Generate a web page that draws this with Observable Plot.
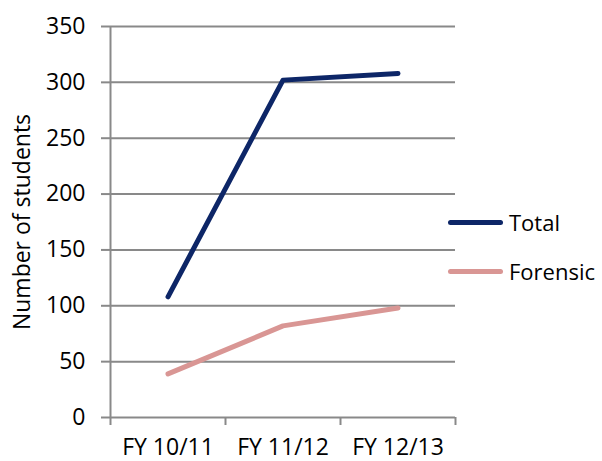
<!DOCTYPE html>
<html>
<head>
<meta charset="utf-8">
<script src="https://cdn.jsdelivr.net/npm/d3@7"></script>
<script src="https://cdn.jsdelivr.net/npm/@observablehq/plot@0.6"></script>
<style>
  html, body { margin: 0; padding: 0; background: #fff; }
  #chart { position: relative; width: 602px; height: 461px; font-family: "Open Sans", sans-serif; }
  #legend { position: absolute; left: 448px; top: 205px; font-size: 22px; color: #000; }
  .item { display: flex; align-items: center; height: 34px; margin-bottom: 15px; }
  .swatch { width: 55px; height: 5px; border-radius: 3px; margin-right: 6px; }
</style>
</head>
<body>
<div id="chart"><div id="legend"></div></div>
<script>
// Enrolment by fiscal year
const years = ["FY 10/11", "FY 11/12", "FY 12/13"];
const totalStudents = [108, 302, 308];
const forensicStudents = [39, 82, 98];
const seriesNames = ["Total", "Forensic"];
const seriesColors = ["#0d2667", "#d99694"];
const yTicks = [0, 50, 100, 150, 200, 250, 300, 350];

const rows = [
  ...years.map((fy, i) => ({series: "Total", i, fy, value: totalStudents[i]})),
  ...years.map((fy, i) => ({series: "Forensic", i, fy, value: forensicStudents[i]}))
];

const grey = "#898989";

const chart = Plot.plot({
  width: 602,
  height: 461,
  marginLeft: 110,
  marginRight: 147,
  marginTop: 26,
  marginBottom: 44,
  style: {fontFamily: "'Open Sans', sans-serif", fontSize: "23px", color: "#000", background: "#fff"},
  x: {domain: [0, years.length]},
  y: {domain: [0, 350]},
  color: {domain: seriesNames, range: seriesColors},
  marks: [
    Plot.gridY(yTicks, {stroke: grey, strokeOpacity: 1, strokeWidth: 2}),
    Plot.ruleX([0], {stroke: grey, strokeWidth: 2}),
    Plot.axisY(yTicks, {
      tickSize: 9, tickPadding: 16, stroke: grey, strokeWidth: 2,
      label: "Number of students", labelAnchor: "center", labelArrow: "none", labelOffset: 97
    }),
    // category boundary ticks
    Plot.axisX(d3.range(years.length + 1), {
      tickSize: 8, tickFormat: () => "", stroke: grey, strokeWidth: 2, label: null
    }),
    // category labels centred in each band
    Plot.axisX(years.map((_, i) => i + 0.5), {
      tickSize: 0, tickPadding: 21, tickFormat: (d) => years[Math.floor(d)], label: null
    }),
    Plot.line(rows, {
      x: (d) => d.i + 0.5, y: "value", z: "series", stroke: "series",
      strokeWidth: 5, strokeLinecap: "round", strokeLinejoin: "round"
    })
  ]
});

document.getElementById("chart").prepend(chart);

const legend = document.getElementById("legend");
seriesNames.forEach((name, k) => {
  const item = document.createElement("div");
  item.className = "item";
  const sw = document.createElement("span");
  sw.className = "swatch";
  sw.style.background = seriesColors[k];
  const label = document.createElement("span");
  label.textContent = name;
  item.append(sw, label);
  legend.append(item);
});
</script>
</body>
</html>
